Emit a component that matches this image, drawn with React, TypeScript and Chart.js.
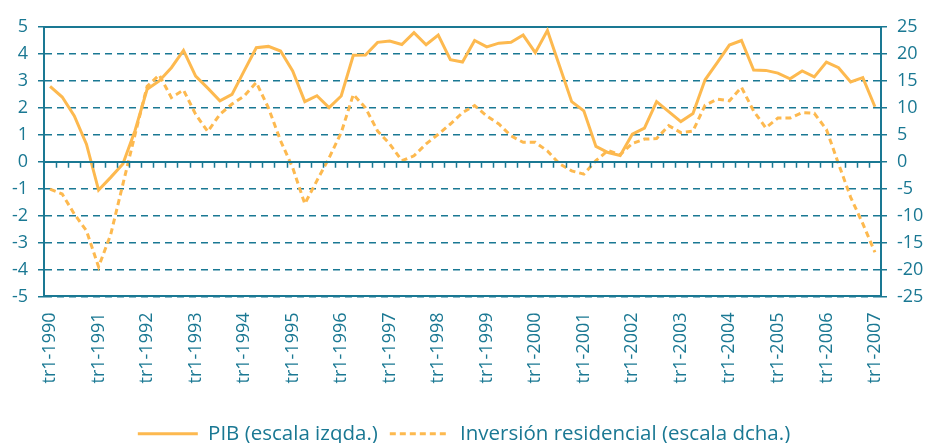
import React, { useEffect, useRef } from 'react';
import { Chart, registerables } from 'chart.js';

Chart.register(...registerables);

const years = [1990, 1991, 1992, 1993, 1994, 1995, 1996, 1997, 1998, 1999, 2000, 2001, 2002, 2003, 2004, 2005, 2006, 2007];
const quarters = ['tr1', 'tr2', 'tr3', 'tr4'];
const labels: string[] = [];
years.forEach((y) => {
  quarters.forEach((q) => {
    if (y < 2007 || q === 'tr1') labels.push(`${q}-${y}`);
  });
});

// PIB (left scale)
const pib = [
  2.8, 2.4, 1.7, 0.65, -1.05, -0.58, -0.08, 1.15,
  2.69, 3.0, 3.49, 4.13, 3.18, 2.73, 2.26, 2.5,
  3.37, 4.23, 4.28, 4.11, 3.37, 2.23, 2.45, 2.01,
  2.44, 3.95, 3.96, 4.43, 4.48, 4.35, 4.79, 4.34,
  4.7, 3.79, 3.7, 4.5, 4.26, 4.4, 4.43, 4.7,
  4.05, 4.87, 3.55, 2.23, 1.89, 0.57, 0.34, 0.23,
  1.02, 1.25, 2.23, 1.86, 1.49, 1.79, 3.04, 3.68,
  4.33, 4.5, 3.4, 3.39, 3.29, 3.08, 3.37, 3.15,
  3.7, 3.49, 2.96, 3.12, 2.04,
];

// Inversión residencial (right scale)
const inversion = [
  -5.1, -6.0, -9.7, -12.8, -19.5, -13.5, -4.2, 5.0,
  14.0, 16.1, 11.9, 13.3, 8.8, 5.6, 8.8, 10.7,
  12.2, 14.7, 10.0, 3.9, -1.1, -7.8, -3.5, 0.7,
  5.4, 12.5, 10.0, 5.7, 3.3, 0.2, 1.1, 3.3,
  5.1, 7.0, 9.1, 10.4, 8.5, 7.0, 4.8, 3.6,
  3.6, 2.0, -0.4, -1.7, -2.3, 0.2, 2.1, 1.3,
  3.4, 4.2, 4.3, 6.7, 5.4, 5.7, 10.5, 11.6,
  11.3, 13.8, 9.4, 6.3, 8.1, 8.1, 9.1, 9.0,
  6.0, -0.4, -6.6, -11.5, -16.8,
];

const leftTicks = [-5, -4, -3, -2, -1, 0, 1, 2, 3, 4, 5];
const rightTicks = [-25, -20, -15, -10, -5, 0, 5, 10, 15, 20, 25];

const TEAL = '#1a7893';
const ORANGE = '#fdb94f';
const FONT = 'Open Sans';
const LINE_DASH = [6, 4];

// Draws the solid zero line and the small category ticks hanging below it
const zeroAxisPlugin = {
  id: 'zeroAxis',
  afterDatasetsDraw(chart: any) {
    const xs = chart.scales.x;
    const ys = chart.scales.y;
    const area = chart.chartArea;
    const y0 = ys.getPixelForValue(0);
    const ctx = chart.ctx;
    ctx.save();
    ctx.strokeStyle = TEAL;
    ctx.setLineDash([]);
    ctx.lineWidth = 1.5;
    ctx.beginPath();
    for (let i = 1; i < labels.length; i++) {
      const bx = Math.round((xs.getPixelForValue(i - 1) + xs.getPixelForValue(i)) / 2) + 0.5;
      ctx.moveTo(bx, y0);
      ctx.lineTo(bx, y0 + 6);
    }
    ctx.stroke();
    ctx.lineWidth = 2;
    ctx.beginPath();
    ctx.moveTo(area.left, Math.round(y0));
    ctx.lineTo(area.right, Math.round(y0));
    ctx.stroke();
    ctx.restore();
  },
};

export default function App() {
  const ref = useRef<HTMLCanvasElement | null>(null);

  useEffect(() => {
    if (!ref.current) return;
    const chart = new Chart(ref.current, {
      type: 'line',
      plugins: [zeroAxisPlugin],
      data: {
        labels,
        datasets: [
          {
            label: 'PIB (escala izqda.)',
            data: pib,
            borderColor: ORANGE,
            backgroundColor: ORANGE,
            borderWidth: 3,
            pointRadius: 0,
            tension: 0,
            yAxisID: 'y',
            xAxisID: 'x',
            order: 0,
          },
          {
            label: 'Inversión residencial (escala dcha.)',
            data: inversion,
            borderColor: ORANGE,
            backgroundColor: ORANGE,
            borderWidth: 3,
            borderDash: LINE_DASH,
            pointRadius: 0,
            tension: 0,
            yAxisID: 'y1',
            xAxisID: 'x',
            order: 1,
          },
        ],
      },
      options: {
        animation: false,
        responsive: true,
        maintainAspectRatio: false,
        layout: { padding: { top: 27, left: 0, right: 0, bottom: -11 } },
        font: { family: FONT },
        plugins: {
          tooltip: { enabled: false },
          legend: {
            position: 'bottom',
            labels: {
              color: TEAL,
              font: { family: FONT, size: 20.5 },
              usePointStyle: true,
              pointStyle: 'line',
              pointStyleWidth: 60,
              boxHeight: 20,
              padding: 12,
              generateLabels: (c: any) => {
                const items = Chart.defaults.plugins.legend.labels.generateLabels(c);
                items.forEach((it: any, i: number) => {
                  it.lineWidth = 3;
                  it.strokeStyle = ORANGE;
                  it.fillStyle = ORANGE;
                  it.lineDash = i === 1 ? LINE_DASH : [];
                  it.pointStyle = 'line';
                  it.fontColor = TEAL;
                });
                return items;
              },
            },
          },
        },
        scales: {
          x: {
            type: 'category',
            position: 'bottom',
            offset: true,
            grid: { display: true, drawOnChartArea: false, drawTicks: false },
            border: { display: true, color: TEAL, width: 2 },
            afterFit: (s: any) => {
              s.height = s.height + 12;
            },
            ticks: {
              autoSkip: false,
              minRotation: 90,
              maxRotation: 90,
              padding: 16,
              color: TEAL,
              font: { family: FONT, size: 18 },
              callback: (_v: any, i: number) => (labels[i].startsWith('tr1') ? labels[i] : ''),
            },
          },
          xt: {
            type: 'category',
            position: 'top',
            offset: true,
            grid: { display: false, drawOnChartArea: false, drawTicks: false },
            border: { display: true, color: TEAL, width: 2 },
            ticks: { display: false },
            afterFit: (s: any) => {
              s.height = 0;
            },
          },
          y: {
            type: 'linear',
            position: 'left',
            min: -5,
            max: 5,
            afterBuildTicks: (s: any) => {
              s.ticks = leftTicks.map((v) => ({ value: v }));
            },
            afterFit: (s: any) => {
              s.width = 44;
            },
            grid: {
              color: TEAL,
              lineWidth: 1.5,
              drawTicks: true,
              tickLength: 6,
              tickColor: TEAL,
            },
            border: { display: true, color: TEAL, width: 2, dash: [7, 5] },
            ticks: {
              padding: 10,
              color: TEAL,
              font: { family: FONT, size: 18 },
            },
          },
          y1: {
            type: 'linear',
            position: 'right',
            min: -25,
            max: 25,
            afterBuildTicks: (s: any) => {
              s.ticks = rightTicks.map((v) => ({ value: v }));
            },
            afterFit: (s: any) => {
              s.width = 47;
            },
            grid: {
              drawOnChartArea: false,
              drawTicks: true,
              tickLength: 6,
              tickColor: TEAL,
              lineWidth: 1.5,
            },
            border: { display: true, color: TEAL, width: 2 },
            ticks: {
              padding: 10,
              color: TEAL,
              font: { family: FONT, size: 18 },
            },
          },
        },
      },
    });
    return () => chart.destroy();
  }, []);

  return (
    <div style={{ position: 'fixed', left: 0, top: 0, width: 928, height: 443, background: '#fff' }}>
      <canvas ref={ref} />
    </div>
  );
}
